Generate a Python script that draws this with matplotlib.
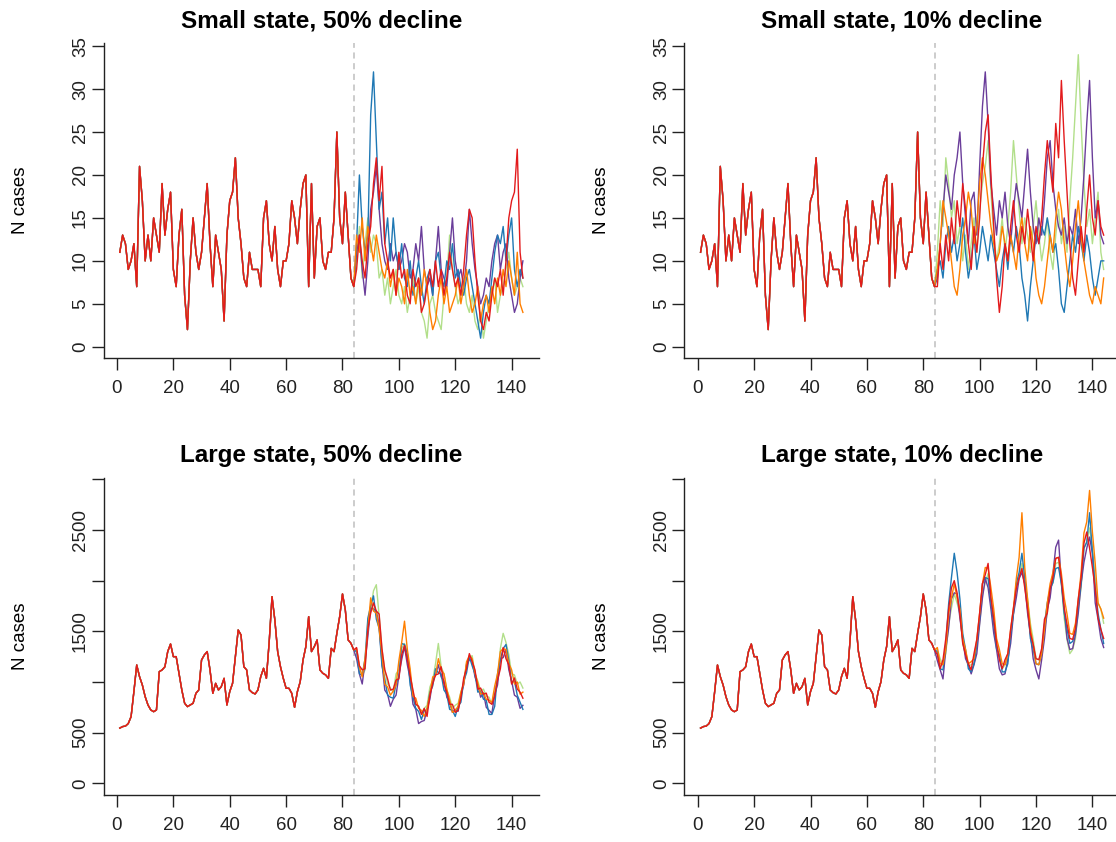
import numpy as np
import matplotlib
matplotlib.use("Agg")
import matplotlib.pyplot as plt

# observed weeks 1..84
obs_small = [11, 13, 12, 9, 10, 12, 7, 21, 17, 10,
             13, 10, 15, 13, 11, 19, 13, 16, 18, 9,
             7, 13, 16, 6, 2, 10, 15, 11, 9, 11,
             15, 19, 12, 7, 13, 11, 9, 3, 13, 17,
             18, 22, 15, 12, 8, 7, 11, 9, 9, 9,
             7, 15, 17, 12, 10, 14, 9, 7, 10, 10,
             12, 17, 15, 12, 16, 19, 20, 7, 19, 8,
             14, 15, 10, 9, 11, 11, 15, 25, 15, 12,
             18, 13, 8, 7]

obs_large = [545, 560, 565, 590, 658, 905, 1168, 1053, 970, 855,
             773, 724, 707, 724, 1102, 1119, 1150, 1300, 1375, 1250,
             1250, 1086, 921, 790, 757, 773, 790, 888, 921, 1217,
             1267, 1300, 1119, 888, 987, 921, 954, 1036, 773, 905,
             987, 1250, 1513, 1464, 1151, 1119, 921, 895, 882, 921,
             1053, 1135, 1036, 1398, 1842, 1612, 1300, 1151, 1036, 938,
             938, 888, 750, 905, 1003, 1217, 1349, 1645, 1300, 1349,
             1415, 1119, 1086, 1070, 1036, 1332, 1300, 1480, 1645, 1869,
             1711, 1415, 1382, 1316]

# projections, weeks 85..144
s50_green = [10, 14, 8, 12, 15, 11, 13, 12, 8, 9, 6, 8, 5, 7, 9, 6, 5, 7, 4, 6,
             8, 5, 7, 4, 3, 1, 5, 6, 4, 3, 2, 6, 8, 13, 9, 7, 5, 6, 8, 5,
             4, 6, 3, 2, 4, 1, 3, 5, 6, 8, 4, 6, 7, 9, 11, 8, 6, 7, 8, 7]
s50_purple = [11, 13, 9, 6, 10, 16, 18, 21, 16, 12, 10, 9, 12, 10, 11, 9, 10, 12, 11, 8,
              9, 12, 10, 14, 9, 7, 8, 6, 10, 14, 9, 8, 7, 11, 15, 10, 8, 9, 7, 10,
              16, 12, 9, 7, 5, 6, 8, 7, 10, 12, 13, 9, 11, 12, 8, 6, 4, 5, 8, 10]
s50_blue = [12, 20, 14, 11, 13, 27, 32, 24, 16, 18, 12, 15, 10, 15, 11, 9, 12, 8, 7, 10,
            6, 8, 10, 7, 5, 8, 9, 6, 10, 11, 8, 7, 10, 9, 12, 8, 9, 7, 6, 8,
            9, 7, 5, 3, 1, 4, 6, 5, 8, 11, 13, 12, 14, 10, 13, 15, 9, 7, 9, 8]
s50_orange = [13, 11, 15, 10, 14, 12, 10, 13, 11, 9, 8, 10, 7, 9, 6, 8, 7, 5, 9, 6,
              7, 5, 8, 6, 9, 7, 4, 2, 3, 6, 8, 5, 7, 4, 5, 6, 8, 5, 7, 9,
              6, 4, 5, 7, 3, 5, 6, 4, 7, 5, 8, 6, 9, 7, 10, 8, 6, 11, 5, 4]
s50_red = [9, 13, 10, 8, 12, 14, 19, 22, 17, 21, 12, 10, 8, 9, 6, 11, 8, 9, 6, 5,
           9, 7, 8, 4, 5, 7, 9, 7, 10, 7, 9, 6, 8, 11, 9, 7, 8, 6, 9, 13,
           16, 15, 10, 6, 3, 2, 4, 3, 6, 8, 7, 9, 6, 10, 15, 17, 18, 23, 11, 8]

s10_green = [11, 17, 14, 22, 19, 15, 17, 12, 14, 10, 13, 9, 12, 15, 11, 16, 19, 21, 24, 18,
             13, 10, 12, 15, 11, 14, 18, 24, 20, 16, 12, 15, 13, 11, 14, 17, 13, 10, 12, 15,
             11, 9, 13, 16, 12, 14, 11, 17, 22, 28, 34, 26, 19, 14, 16, 12, 15, 18, 11, 9]
s10_purple = [8, 12, 16, 20, 18, 16, 20, 22, 25, 19, 15, 12, 17, 18, 13, 21, 28, 32, 26, 19,
              16, 13, 17, 15, 18, 14, 12, 16, 19, 17, 15, 19, 23, 18, 14, 12, 15, 13, 17, 22,
              24, 19, 16, 14, 13, 15, 12, 14, 13, 16, 12, 15, 20, 26, 31, 22, 15, 17, 13, 12]
s10_blue = [9, 10, 8, 12, 14, 11, 13, 10, 12, 15, 11, 8, 10, 13, 9, 11, 14, 12, 10, 13,
            11, 9, 7, 10, 12, 9, 13, 11, 14, 12, 8, 6, 3, 7, 10, 13, 12, 14, 13, 15,
            13, 11, 12, 9, 5, 4, 7, 10, 13, 11, 14, 12, 10, 13, 11, 8, 6, 8, 10, 10]
s10_orange = [9, 12, 17, 15, 13, 10, 7, 6, 9, 13, 15, 18, 16, 12, 14, 19, 22, 20, 17, 14,
              12, 10, 11, 14, 12, 10, 13, 11, 9, 13, 15, 12, 10, 14, 12, 8, 6, 5, 7, 10,
              13, 11, 15, 18, 16, 12, 9, 7, 10, 14, 17, 13, 10, 8, 6, 5, 7, 6, 5, 8]
s10_red = [7, 12, 9, 13, 10, 15, 12, 17, 14, 19, 16, 12, 9, 14, 11, 15, 21, 25, 27, 20,
           14, 8, 4, 7, 12, 10, 14, 17, 13, 11, 14, 12, 16, 13, 10, 14, 12, 15, 20, 24,
           21, 18, 26, 22, 31, 24, 18, 12, 8, 6, 10, 14, 11, 16, 20, 15, 13, 17, 14, 13]

l50_green = [1300, 1150, 1060, 1120, 1600, 1720, 1900, 1960, 1650, 1320,
             1120, 980, 940, 900, 1080, 1120, 1330, 1380, 1290, 1080,
             900, 780, 760, 690, 740, 770, 950, 1020, 1180, 1380,
             1150, 1080, 920, 850, 740, 770, 790, 900, 990, 1180,
             1240, 1260, 1080, 1010, 910, 930, 860, 850, 780, 920,
             1020, 1330, 1480, 1390, 1270, 1080, 1070, 980, 1000, 940]
l50_purple = [1230, 1080, 980, 1200, 1450, 1730, 1720, 1700, 1560, 1190,
              920, 880, 760, 830, 870, 1060, 1220, 1350, 1170, 1030,
              780, 730, 590, 610, 620, 730, 830, 1010, 1070, 1170,
              1050, 1010, 850, 800, 700, 730, 710, 870, 970, 1170,
              1220, 1210, 1050, 970, 850, 890, 750, 720, 690, 880,
              970, 1230, 1240, 1320, 1120, 1010, 870, 850, 740, 770]
l50_blue = [1300, 1080, 1070, 1230, 1630, 1750, 1850, 1620, 1530, 1160,
            1030, 870, 850, 840, 980, 1050, 1380, 1370, 1280, 970,
            850, 740, 710, 630, 720, 720, 900, 960, 1130, 1090,
            1080, 920, 880, 730, 720, 660, 760, 800, 1010, 1090,
            1250, 1160, 1080, 900, 910, 830, 820, 680, 680, 760,
            1080, 1220, 1330, 1370, 1210, 990, 1010, 870, 800, 730]
l50_orange = [1330, 1150, 1050, 1230, 1520, 1830, 1700, 1680, 1520, 1280,
              980, 950, 870, 910, 970, 1210, 1390, 1600, 1320, 1130,
              860, 840, 740, 720, 660, 740, 880, 1050, 1060, 1230,
              1120, 1080, 930, 820, 700, 720, 760, 900, 980, 1200,
              1260, 1230, 1090, 990, 880, 890, 830, 820, 800, 960,
              1080, 1300, 1330, 1320, 1180, 1120, 980, 1000, 880, 900]
l50_red = [1340, 1160, 1120, 1130, 1520, 1680, 1780, 1700, 1670, 1330,
           1120, 1030, 920, 930, 1020, 1030, 1270, 1360, 1220, 1060,
           920, 780, 760, 680, 740, 660, 870, 980, 1070, 1080,
           1150, 980, 900, 780, 780, 700, 720, 840, 1040, 1130,
           1280, 1200, 1120, 930, 940, 880, 890, 800, 780, 860,
           1020, 1130, 1340, 1230, 1170, 980, 1040, 930, 900, 840]

l10_green = [1320, 1230, 1170, 1280, 1570, 1730, 1870, 1780, 1670, 1380,
             1270, 1160, 1170, 1180, 1370, 1580, 1870, 1980, 2070, 1830,
             1670, 1380, 1270, 1130, 1170, 1230, 1470, 1680, 1920, 2030,
             2170, 1980, 1820, 1580, 1420, 1230, 1220, 1280, 1520, 1680,
             1920, 1980, 2170, 2180, 1970, 1630, 1420, 1280, 1320, 1430,
             1720, 1930, 2320, 2380, 2520, 2330, 2020, 1780, 1720, 1580]
l10_purple = [1210, 1120, 1030, 1320, 1530, 1820, 1880, 1870, 1630, 1420,
              1230, 1170, 1080, 1170, 1280, 1570, 1830, 2020, 1930, 1720,
              1480, 1320, 1130, 1070, 1080, 1220, 1380, 1670, 1830, 2020,
              2080, 1970, 1680, 1470, 1230, 1120, 1030, 1220, 1430, 1720,
              1830, 2070, 2330, 2400, 1980, 1720, 1430, 1320, 1330, 1470,
              1680, 1970, 2180, 2320, 2430, 2270, 1780, 1620, 1430, 1340]
l10_blue = [1300, 1130, 1120, 1380, 1770, 2030, 2270, 2080, 1820, 1480,
            1320, 1130, 1100, 1180, 1370, 1630, 1970, 2030, 2020, 1780,
            1570, 1330, 1270, 1100, 1100, 1180, 1470, 1680, 1970, 2080,
            2270, 2030, 1770, 1430, 1320, 1180, 1170, 1280, 1570, 1780,
            1920, 1980, 2120, 2130, 1970, 1680, 1520, 1380, 1400, 1500,
            1770, 1980, 2320, 2380, 2670, 2280, 1920, 1680, 1520, 1380]
l10_orange = [1340, 1180, 1170, 1330, 1670, 1830, 1970, 1830, 1720, 1430,
              1320, 1180, 1200, 1230, 1420, 1680, 1970, 2130, 2120, 1930,
              1720, 1430, 1320, 1180, 1170, 1280, 1520, 1730, 2020, 2230,
              2670, 2130, 1820, 1530, 1370, 1180, 1170, 1280, 1520, 1780,
              1970, 2080, 2220, 2230, 2070, 1830, 1670, 1480, 1470, 1580,
              1820, 2080, 2470, 2580, 2890, 2480, 2170, 1780, 1720, 1630]
l10_red = [1270, 1130, 1220, 1430, 1720, 1930, 2000, 1880, 1670, 1380,
           1270, 1180, 1120, 1280, 1420, 1680, 1970, 2060, 2170, 1830,
           1620, 1380, 1220, 1130, 1220, 1280, 1520, 1730, 1920, 2030,
           2120, 1930, 1720, 1480, 1370, 1230, 1220, 1330, 1620, 1680,
           1920, 2030, 2220, 2230, 2020, 1730, 1570, 1430, 1420, 1530,
           1820, 2030, 2370, 2480, 2320, 2130, 1920, 1630, 1520, 1430]

titles = ["Small state, 50% decline", "Small state, 10% decline",
          "Large state, 50% decline", "Large state, 10% decline"]
colors = ["#B2DF8A", "#6A3D9A", "#1F78B4", "#FF7F00", "#E31A1C"]

plt.rcParams['font.family'] = ['Liberation Sans', 'DejaVu Sans']

fig = plt.figure(figsize=(11.16, 8.42), dpi=100)

panels = [
    (obs_small, [s50_green, s50_purple, s50_blue, s50_orange, s50_red]),
    (obs_small, [s10_green, s10_purple, s10_blue, s10_orange, s10_red]),
    (obs_large, [l50_green, l50_purple, l50_blue, l50_orange, l50_red]),
    (obs_large, [l10_green, l10_purple, l10_blue, l10_orange, l10_red]),
]
rects = [
    [0.0929, 0.5743, 0.3901, 0.3746],
    [0.6133, 0.5743, 0.3901, 0.3746],
    [0.0929, 0.0557, 0.3901, 0.3770],
    [0.6133, 0.0557, 0.3901, 0.3770],
]

for k in range(4):
    obs, sims = panels[k]
    ax = fig.add_axes(rects[k])
    weeks = np.arange(1, len(obs) + len(sims[0]) + 1)
    # each run = observed part + its projection, red drawn last on top
    for c, s in zip(colors, sims):
        ax.plot(weeks, obs + s, color=c, lw=1.0)
    ax.axvline(len(obs), color='#BEBEBE', lw=1.1, ls=(0, (4, 3)), zorder=0)

    ax.set_xlim(-4.72, 149.72)
    ax.set_xticks(range(0, 141, 20))
    if k < 2:
        ax.set_ylim(-1.36, 35.36)
        ax.set_yticks(range(0, 36, 5))
    else:
        ax.set_ylim(-116, 3016)
        ax.set_yticks(range(0, 3001, 500))
        ax.set_yticklabels(['0', '500', '', '1500', '', '2500', ''])

    for side in ['top', 'right']:
        ax.spines[side].set_visible(False)
    for side in ['left', 'bottom']:
        ax.spines[side].set_linewidth(1.0)
        ax.spines[side].set_color('#222222')
    ax.tick_params(direction='out', length=8.5, width=1.0, labelsize=13.5, colors='#222222')
    ax.tick_params(axis='x', pad=7)
    ax.tick_params(axis='y', pad=2, labelrotation=90)
    for lab in ax.get_yticklabels():
        lab.set_va('center')

    ax.set_title(titles[k], fontsize=17.5, fontweight='bold', pad=11)
    ax.set_ylabel('N cases', fontsize=13.5, va='center')
    ax.yaxis.set_label_coords(-0.19, 0.5)

fig.savefig('out.png', dpi=100)
